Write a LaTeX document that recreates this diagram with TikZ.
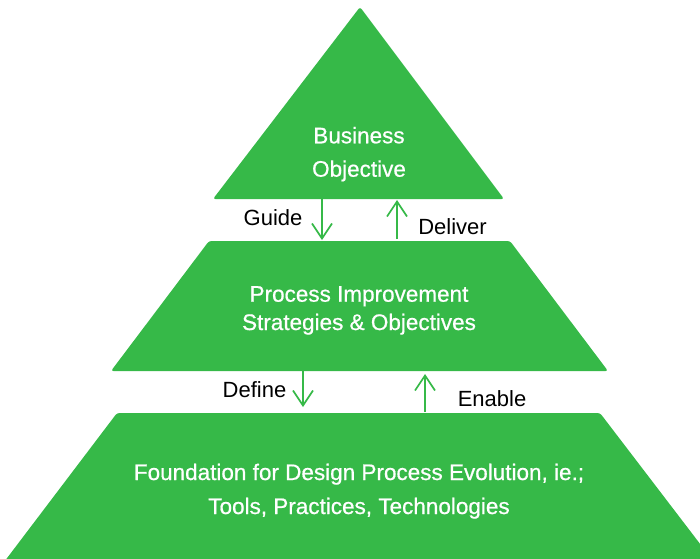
\documentclass[tikz,border=0pt]{standalone}
\usepackage{fontspec}
\setmainfont{Liberation Sans}
\newfontfamily\boxfont[FakeBold=0.7]{Liberation Sans}
\usetikzlibrary{arrows.meta}
\definecolor{pgreen}{RGB}{54,185,72}
\tikzset{
  layer/.style={fill=pgreen, draw=none, rounded corners=2.5pt},
  boxtext/.style={text=white, anchor=base, inner sep=0pt, font=\boxfont\fontsize{22.5}{27}\selectfont},
  lbl/.style={text=black, anchor=base, inner sep=0pt, font=\fontsize{22}{26}\selectfont},
  flow/.style={draw=pgreen, line width=1.7pt, -{Straight Barb[length=15pt,width=20pt]}}
}
\begin{document}
\begin{tikzpicture}[x=1pt,y=-1pt]
\useasboundingbox (0,0) rectangle (700,558);
\clip (0,0) rectangle (700,558);
% layers
\path[layer] (360,7) -- (504,199) -- (213,199) -- cycle;
\path[layer] (209,241) -- (510,241) -- (608,371) -- (111,371) -- cycle;
\path[layer] (117,413) -- (600,413) -- (720,570) -- (-2,570) -- cycle;
% texts
\node[boxtext] (bo1) at (359,143.3) {Business};
\node[boxtext] (bo2) at (359,176.7) {Objective};
\node[boxtext] (pi1) at (359,301.7) {Process Improvement};
\node[boxtext] (pi2) at (359,330) {Strategies \& Objectives};
\node[boxtext] (fd1) at (359,480) {Foundation for Design Process Evolution, ie.;};
\node[boxtext] (fd2) at (359,514) {Tools, Practices, Technologies};
% labels
\node[lbl] (guide) at (273,225.7) {Guide};
\node[lbl] (deliver) at (452.5,234) {Deliver};
\node[lbl] (define) at (254.5,397.3) {Define};
\node[lbl] (enable) at (492,406) {Enable};
% arrow endpoints
\coordinate (g1) at (322,199);
\coordinate (g2) at (322,240);
\coordinate (d1) at (397,239);
\coordinate (d2) at (397,200);
\coordinate (f1) at (303,371);
\coordinate (f2) at (303,407);
\coordinate (e1) at (425,412);
\coordinate (e2) at (425,374);
\draw[flow] (g1) -- (g2);
\draw[flow] (d1) -- (d2);
\draw[flow] (f1) -- (f2);
\draw[flow] (e1) -- (e2);
\end{tikzpicture}
\end{document}
